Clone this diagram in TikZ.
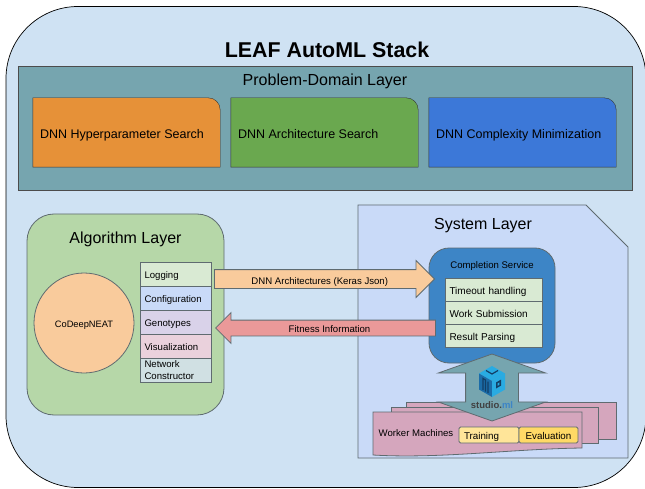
\documentclass[tikz,border=0pt]{standalone}
\usepackage{fontspec}
\setmainfont{Liberation Sans}
\usetikzlibrary{arrows,shapes.arrows}

\definecolor{stackblue}{HTML}{CFE2F3}
\definecolor{problemteal}{HTML}{76A5AF}
\definecolor{hyperorange}{HTML}{E69138}
\definecolor{archgreen}{HTML}{6AA84F}
\definecolor{complexblue}{HTML}{3C78D8}
\definecolor{algogreen}{HTML}{B6D7A8}
\definecolor{peach}{HTML}{F9CB9C}
\definecolor{paleblue}{HTML}{C9DAF8}
\definecolor{palegreen}{HTML}{D9EAD3}
\definecolor{palepurple}{HTML}{D9D2E9}
\definecolor{palepink}{HTML}{EAD1DC}
\definecolor{palecyan}{HTML}{D0E0E3}
\definecolor{serviceblue}{HTML}{3D85C6}
\definecolor{fitnessred}{HTML}{EA9999}
\definecolor{workerpink}{HTML}{D5A6BD}
\definecolor{trainyellow}{HTML}{FFE599}
\definecolor{evalyellow}{HTML}{FFD966}
\definecolor{edgegray}{HTML}{5F6B70}
\definecolor{logodark}{HTML}{1B6CA8}
\definecolor{logolight}{HTML}{29ABE2}
\definecolor{logonavy}{HTML}{123F66}

\begin{document}
\begin{tikzpicture}[x=1pt,y=-1pt,node distance=198pt,
  layer title/.style={font=\fontsize{16}{18}\selectfont},
  task node/.style={minimum width=187pt,minimum height=69pt,inner sep=0pt},
  task text/.style={anchor=west,inner sep=0pt,text height=12pt,text depth=0pt,font=\fontsize{12.5}{14}\selectfont},
  stack node/.style={draw=edgegray,line width=0.8pt,minimum width=71pt,minimum height=24pt,inner sep=0pt,
    text width=63pt,align=left,text height=8pt,text depth=0pt,font=\fontsize{9.6}{12}\selectfont},
  service node/.style={stack node,fill=palegreen,minimum width=97pt,text width=89pt,
    minimum height=23pt,font=\fontsize{10}{12}\selectfont},
  pipe/.style={draw=edgegray,line width=0.8pt,inner sep=0pt,font=\fontsize{9.6}{12}\selectfont,
    single arrow,single arrow head extend=9pt,single arrow tip angle=90,
    single arrow head indent=0pt,minimum width=36pt,text height=14pt,text depth=4pt},
  worker sheet/.style={draw=edgegray,line width=0.8pt,fill=workerpink},
  phase node/.style={draw=edgegray,line width=0.8pt,rounded corners=1.5pt,minimum height=16pt,
    inner sep=0pt,text height=8pt,text depth=0pt,font=\fontsize{9.8}{12}\selectfont}]

  \useasboundingbox (0,0) rectangle (645,489);

  \node[draw=black,line width=0.7pt,fill=stackblue,rounded corners=72pt,minimum width=640pt,minimum height=481pt] (stack) at (326,247) {};
  \node[font=\fontsize{21.4}{24}\selectfont\bfseries] (title) at (327,50) {LEAF AutoML Stack};

  % problem domain
  \node[draw=black!70,fill=problemteal,minimum width=614pt,minimum height=124pt] (problem) at (325,128) {};
  \node[layer title] (problem title) at (325,81) {Problem-Domain Layer};
  \node[task node] (hyper) at (126.5,132.5) {};
  \node[task node] (arch) [right of=hyper] {};
  \node[task node] (complex) [right of=arch] {};
  \foreach \task/\col in {hyper/hyperorange,arch/archgreen,complex/complexblue}
    \draw[draw=black!80,fill=\col] (\task.south west) -- (\task.north west) [rounded corners=12pt] -- (\task.north east) [sharp corners] -- (\task.south east) -- cycle;
  \node[task text] (hyper text) at ([xshift=7pt]hyper.west) {DNN Hyperparameter Search};
  \node[task text] (arch text) at ([xshift=7pt]arch.west) {DNN Architecture Search};
  \node[task text] (complex text) at ([xshift=7pt]complex.west) {DNN Complexity Minimization};

  % algorithm
  \node[draw=edgegray,line width=0.8pt,fill=algogreen,rounded corners=27pt,minimum width=197pt,minimum height=201pt] (algorithm) at (125.5,314.5) {};
  \node[layer title] (algorithm title) at (125.5,239) {Algorithm Layer};
  \node[draw=edgegray,line width=0.8pt,fill=peach,circle,minimum size=100pt,inner sep=0pt,text height=8pt,text depth=0pt,font=\fontsize{9.3}{11}\selectfont] (codeepneat) at (84,323) {CoDeepNEAT};
  \node[stack node,fill=palegreen] (logging) at (176,274) {Logging};
  \node[stack node,fill=paleblue,node distance=24pt] (configuration) [below of=logging] {Configuration};
  \node[stack node,fill=palepurple,node distance=24pt] (genotypes) [below of=configuration] {Genotypes};
  \node[stack node,fill=palepink,node distance=24pt] (visualization) [below of=genotypes] {Visualization};
  \node[stack node,fill=palecyan,node distance=24pt,text height=7pt,text depth=12pt] (constructor) [below of=visualization] {Network\\Constructor};

  % system
  \draw[draw=edgegray,line width=0.8pt,fill=paleblue] (358,205) -- (586,205) -- (628,247) -- (628,458) -- (358,458) -- cycle;
  \node[layer title] (system title) at (483,226) {System Layer};
  \node[draw=edgegray,line width=0.8pt,fill=serviceblue,rounded corners=20pt,minimum width=126pt,minimum height=115pt] (service) at (492,305.5) {};
  \node[text height=8pt,text depth=0pt,font=\fontsize{9.6}{12}\selectfont] (service title) at (492,264.5) {Completion Service};
  \node[service node] (timeout) at (494,290) {Timeout handling};
  \node[service node,node distance=23pt] (submission) [below of=timeout] {Work Submission};
  \node[service node,node distance=23pt] (parsing) [below of=submission] {Result Parsing};

  % workers
  \draw[worker sheet] (406,402) -- (616,402) -- (616,439) -- (406,439) -- cycle;
  \draw[worker sheet] (391,407) -- (598,407) -- (598,443) -- (391,443) -- cycle;
  \draw[worker sheet] (373,412) -- (582,412) -- (582,448) .. controls (510,449) and (440,459) .. (373,455) -- cycle;
  \node[font=\fontsize{9.6}{12}\selectfont] (workers) at (416,433) {Worker Machines};
  \node[phase node,fill=trainyellow,minimum width=60pt,text width=50pt,align=left] (training) at (489,435) {Training};
  \node[phase node,fill=evalyellow,node distance=59.5pt,minimum width=59pt] (evaluation) [right of=training] {Evaluation};

  % links
  \node[pipe,fill=peach,minimum height=220pt,anchor=tip] (architectures) at (435,279) {DNN Architectures (Keras Json)};
  \node[pipe,fill=fitnessred,minimum height=220pt,shape border rotate=180,text height=12pt,text depth=3pt,single arrow head extend=7.5pt,minimum width=30pt,anchor=tip] (fitness) at (215,328) {Fitness Information};
  \node[draw=edgegray,line width=0.8pt,fill=problemteal,double arrow,shape border rotate=90,double arrow head extend=27.5pt,double arrow tip angle=141,
    double arrow head indent=0pt,inner sep=0pt,text width=52pt,minimum width=107pt,minimum height=67pt] (studio) at (492,387.5) {};

  % logo
  \fill[logolight] (492,366) -- (505,373.5) -- (492,381) -- (479,373.5) -- cycle;
  \fill[logodark] (479,373.5) -- (492,381) -- (492,397) -- (479,389.5) -- cycle;
  \fill[logolight] (492,381) -- (505,373.5) -- (505,389.5) -- (492,397) -- cycle;
  \draw[logonavy,line width=1.2pt] (486,370.5) -- (492,374) -- (498,370.5);
  \draw[logonavy,line width=1.2pt] (483,390) -- (483,378.5) -- (485.5,380) -- (485.5,391.5) (488,393) -- (488,381.5);
  \fill[logonavy] (496,382.5) -- (501,379.6) -- (501,385.6) -- (496,388.5) -- cycle;
  \fill[logolight] (497.6,383.4) -- (499.4,382.4) -- (499.4,384.8) -- (497.6,385.8) -- cycle;
  \node[inner sep=0pt,font=\fontsize{9.5}{11}\selectfont\bfseries] (studio text) at (492,405.5) {\textcolor{black!75}{studio.}\textcolor{serviceblue}{ml}};
\end{tikzpicture}
\end{document}
